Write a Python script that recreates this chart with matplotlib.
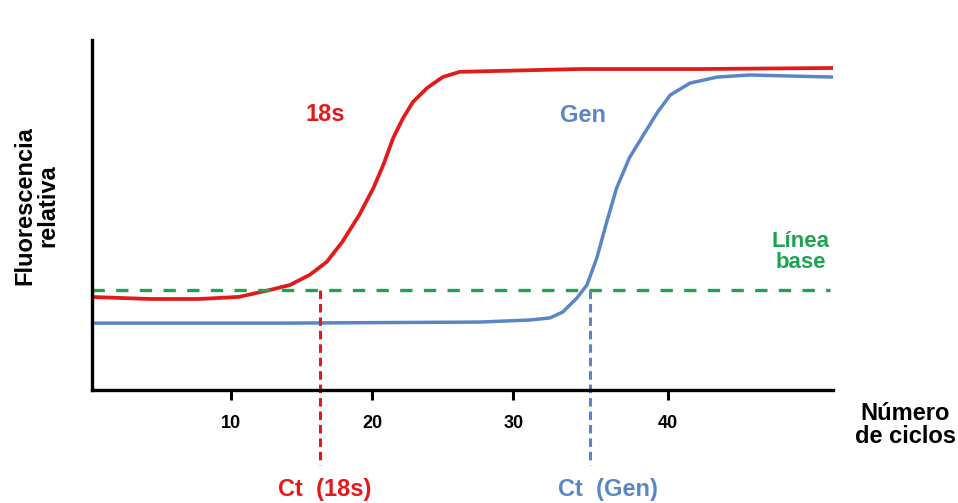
import matplotlib.pyplot as plt

plt.rcParams['font.family'] = ['Liberation Sans', 'DejaVu Sans']
plt.rcParams['font.weight'] = 'bold'

# Curves (cycle, relative fluorescence)
red_x = [0.0, 4.3, 7.8, 10.6, 12.8, 14.2, 15.6, 16.8, 17.9, 19.1, 20.1, 20.8, 21.5, 22.2, 22.9,
         23.9, 25.0, 26.2, 28.3, 34.7, 43.2, 52.6]
red_y = [26.6, 26.0, 26.0, 26.6, 28.6, 30.0, 32.9, 36.6, 42.3, 50.0, 57.7, 64.3, 72.0, 77.7, 82.3,
         86.3, 89.4, 90.9, 91.1, 91.7, 91.7, 92.0]

blue_x = [0.4, 13.5, 27.6, 31.2, 32.6, 33.5, 34.5, 35.2, 35.9, 36.6, 37.3, 38.2, 39.2, 40.2, 41.1,
          42.5, 44.4, 46.7, 52.6]
blue_y = [19.1, 19.1, 19.4, 20.0, 20.6, 22.3, 26.3, 30.0, 37.7, 48.0, 57.7, 66.3, 72.9, 79.4, 84.3,
          87.7, 89.4, 90.0, 89.4]

baseline = 28.6
ct_18s = 16.3
ct_gen = 35.4

tick_pos = [10, 20, 30, 40.9]
tick_labels = ['10', '20', '30', '40']

red = '#e31a1c'
blue = '#5b86c6'
green = '#1fa352'

fig = plt.figure(figsize=(9.58, 5.03), dpi=100)
ax = fig.add_axes([0.096, 0.2247, 0.7735, 0.6958])

ax.plot(red_x, red_y, color=red, lw=2.7, solid_joinstyle='round', solid_capstyle='round')
ax.plot(blue_x, blue_y, color=blue, lw=2.5, solid_joinstyle='round', solid_capstyle='round')
ax.plot([0.2, 52.4], [baseline, baseline], color=green, lw=2.4, ls=(0, (3.7, 3.4)))

# Ct lines going below the axis
ax.plot([ct_18s, ct_18s], [baseline, -21.5], color=red, lw=2.2, ls=(0, (2.8, 1.6)), clip_on=False)
ax.plot([ct_gen, ct_gen], [baseline, -21.5], color=blue, lw=2.2, ls=(0, (2.8, 1.6)), clip_on=False)

ax.set_xlim(0.2, 52.6)
ax.set_ylim(0, 100)
ax.spines['top'].set_visible(False)
ax.spines['right'].set_visible(False)
ax.spines['left'].set_linewidth(2.4)
ax.spines['bottom'].set_linewidth(2.4)
ax.set_yticks([])
ax.set_xticks(tick_pos)
ax.set_xticklabels(tick_labels, fontsize=13, fontweight='bold')
ax.tick_params(axis='x', direction='out', length=7, width=2.2, pad=11)

ax.text(16.7, 78.6, '18s', color=red, fontsize=17, fontweight='bold', ha='center', va='center')
ax.text(34.9, 78.3, 'Gen', color=blue, fontsize=17, fontweight='bold', ha='center', va='center')
ax.text(50.3, 39.4, 'Línea\nbase', color=green, fontsize=16, fontweight='bold',
        ha='center', va='center', linespacing=1.05)

fig.text(0.339, 0.026, 'Ct  (18s)', color=red, fontsize=17, fontweight='bold', ha='center', va='center')
fig.text(0.635, 0.026, 'Ct  (Gen)', color=blue, fontsize=17, fontweight='bold', ha='center', va='center')
fig.text(0.945, 0.155, 'Número\nde ciclos', fontsize=17, fontweight='bold', ha='center', va='center',
         linespacing=1.05)
fig.text(0.038, 0.592, 'Fluorescencia\nrelativa', fontsize=17, fontweight='bold', ha='center', va='center',
         rotation=90, linespacing=1.05)

fig.savefig('out.png', dpi=100)
